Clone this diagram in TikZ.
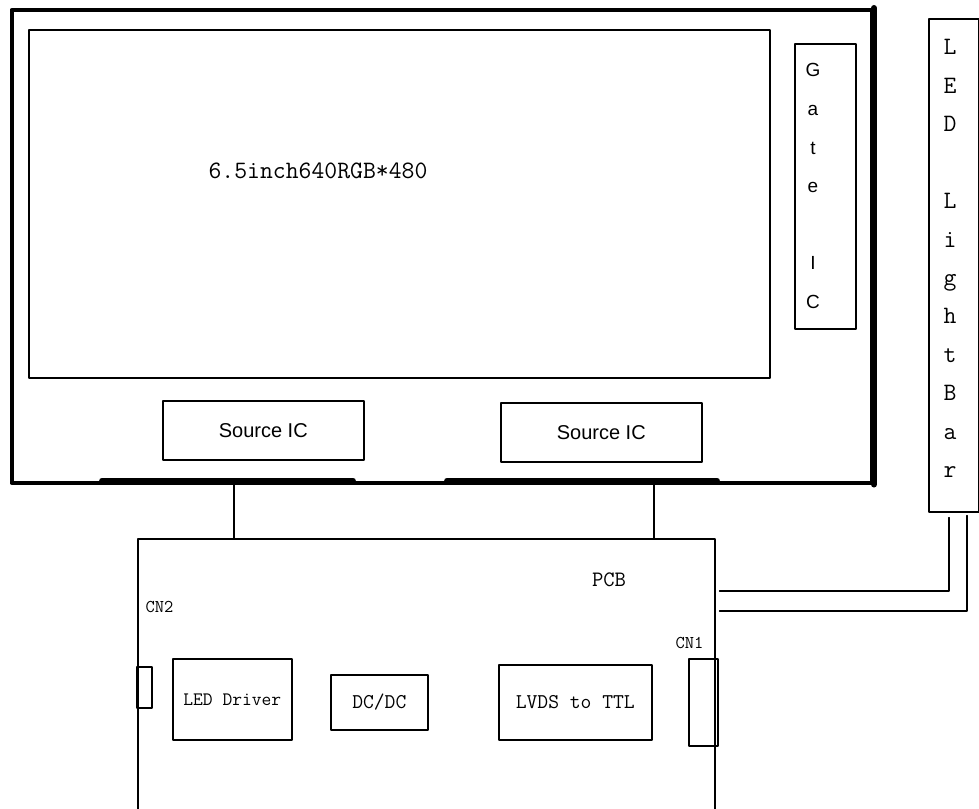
\documentclass[tikz,border=0pt]{standalone}
\usepackage{fontspec}
\newfontfamily\arialsf{Liberation Sans}
\usetikzlibrary{calc}
\begin{document}
\begin{tikzpicture}[x=1pt,y=-1pt,line cap=round,line join=round,
  box/.style={draw,line width=1.6pt,inner sep=0pt,anchor=north west},
  lbl/.style={inner sep=0pt,anchor=base}]
  \useasboundingbox (0,0) rectangle (979,808);
  \def\tt#1{\ttfamily\fontsize{#1}{#1}\selectfont}
  \def\sf#1{\arialsf\fontsize{#1}{#1}\selectfont}
  % display module
  \node[box,line width=4pt,minimum width=860.5pt,minimum height=472.5pt] (frame) at (9.5,8) {};
  \draw[line width=6pt] (frame.north east) -- (frame.south east);
  \draw[line width=5.6pt] (102,480.5) -- (353,480.5);
  \draw[line width=5.6pt] (447,480.5) -- (717,480.5);
  \node[box,minimum width=741pt,minimum height=348pt] (panel) at (28,29) {};
  \node[lbl,font=\tt{25}] (size) at (318,178) {6.5inch640RGB*480};
  \node[box,minimum width=61pt,minimum height=285pt] (gate) at (794,43) {};
  \foreach \ch/\k in {G/0,a/1,t/2,e/3,I/5,C/6}
    \node[lbl,font=\sf{19}] (gate\k) at (813,{77+38.5*\k}) {\ch};
  \node[box,minimum width=201pt,minimum height=59pt,font=\sf{20}] (srca) at (162,400) {Source IC};
  \node[box,minimum width=201pt,minimum height=59pt,font=\sf{20}] (srcb) at (500,402) {Source IC};
  % light bar
  \node[box,minimum width=50pt,minimum height=492.5pt] (bar) at (928,18.5) {};
  \foreach \ch/\k in {L/0,E/1,D/2,L/4,i/5,g/6,h/7,t/8,B/9,a/10,r/11}
    \node[lbl,font=\tt{25}] (bar\k) at (950,{55+38.4*\k}) {\ch};
  % PCB
  \node[box,minimum width=577pt,minimum height=280pt] (pcb) at (137,538) {};
  \node[lbl,font=\tt{22}] (pcbname) at (609,586) {PCB};
  \node[box,minimum width=15pt,minimum height=41pt] (cntwo) at (136,666) {};
  \node[lbl,font=\tt{18}] (cntwoname) at (159.5,612) {CN2};
  \node[box,minimum width=29pt,minimum height=87pt] (cnone) at (688,658) {};
  \node[lbl,font=\tt{18}] (cnonename) at (689.5,648) {CN1};
  \node[box,minimum width=119pt,minimum height=81pt,font=\tt{19}] (drv) at (172,658) {LED Driver};
  \node[box,minimum width=97pt,minimum height=55pt,font=\tt{21}] (dcdc) at (330,674) {DC/DC};
  \node[box,minimum width=153pt,minimum height=75pt,font=\tt{21}] (lvds) at (498,664) {LVDS to TTL};
  % connections
  \coordinate (tapa) at (234,0);
  \coordinate (tapb) at (654,0);
  \draw[line width=1.6pt] (frame.south -| tapa) -- (pcb.north -| tapa);
  \draw[line width=1.6pt] (frame.south -| tapb) -- (pcb.north -| tapb);
  \coordinate (wirea) at (949,591);
  \coordinate (wireb) at (967,611);
  \draw[line width=1.6pt] ($(bar.south -| wirea)+(0,5)$) |- ($(wirea -| pcb.east)+(4,0)$);
  \draw[line width=1.6pt] ($(bar.south -| wireb)+(0,3)$) |- ($(wireb -| pcb.east)+(4,0)$);
\end{tikzpicture}
\end{document}
